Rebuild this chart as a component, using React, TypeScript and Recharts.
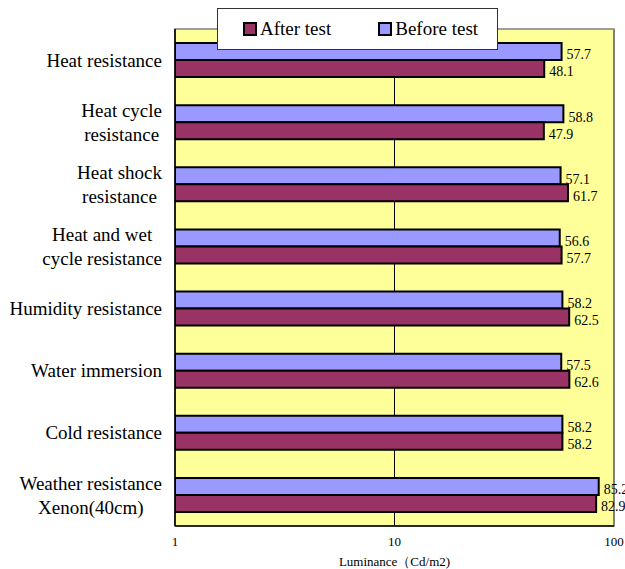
import React from 'react'
import {
  BarChart,
  Bar,
  XAxis,
  YAxis,
  CartesianGrid,
  Legend,
  LabelList,
  ReferenceArea
} from 'recharts'

const categoryLines: string[][] = [
  ['Heat resistance'],
  ['Heat cycle', 'resistance'],
  ['Heat shock', 'resistance'],
  ['Heat and wet', 'cycle resistance'],
  ['Humidity resistance'],
  ['Water immersion'],
  ['Cold resistance'],
  ['Weather resistance', 'Xenon(40cm)']
]
const beforeTest = [57.7, 58.8, 57.1, 56.6, 58.2, 57.5, 58.2, 85.2]
const afterTest = [48.1, 47.9, 61.7, 57.7, 62.5, 62.6, 58.2, 82.9]
const xTicks = [1, 10, 100]

const SERIF = "'Liberation Serif', 'Times New Roman', serif"
const MAROON = '#993366'
const BLUE = '#9999FF'

const data = categoryLines.map((lines, i) => ({
  name: lines.join(' '),
  before: beforeTest[i],
  after: afterTest[i]
}))

let ctx: CanvasRenderingContext2D | null = null
function textWidth(s: string, size: number) {
  if (!ctx) ctx = document.createElement('canvas').getContext('2d')
  if (!ctx) return s.length * size * 0.45
  ctx.font = `${size}px ${SERIF}`
  return ctx.measureText(s).width
}

function CategoryTick(props: any) {
  const { x, y, payload } = props
  const lines = categoryLines.find(l => l.join(' ') === payload.value) || [payload.value]
  const size = 19
  const w = Math.max(...lines.map(l => textWidth(l, size)))
  const cx = x - 5 - w / 2
  const lh = 24
  const start = y - ((lines.length - 1) * lh) / 2
  return (
    <text x={cx} y={start} textAnchor="middle" style={{ fontFamily: SERIF, fontSize: size }} fill="#000">
      {lines.map((l, i) => (
        <tspan key={i} x={cx} y={start + i * lh} dy="0.35em">{l}</tspan>
      ))}
    </text>
  )
}

function LegendBox() {
  const item = (color: string, label: string) => (
    <span style={{ display: 'inline-flex', alignItems: 'center' }}>
      <span style={{
        display: 'inline-block', width: 10, height: 10, background: color,
        border: '2px solid #000', marginRight: 3
      }} />
      <span>{label}</span>
    </span>
  )
  return (
    <div style={{
      boxSizing: 'border-box', width: 281, height: 42, background: '#fff',
      border: '1px solid #333', display: 'flex', alignItems: 'center',
      paddingLeft: 25, gap: 47, fontFamily: SERIF, fontSize: 19, color: '#000'
    }}>
      {item(MAROON, 'After test')}
      {item(BLUE, 'Before test')}
    </div>
  )
}

export default function App() {
  return (
    <div style={{ position: 'absolute', left: 0, top: 0, fontFamily: SERIF }}>
      <BarChart
        width={625}
        height={569}
        data={data}
        layout="vertical"
        margin={{ top: 29, right: 11, left: 0, bottom: 0 }}
        barCategoryGap="22%"
        barGap={0}
        style={{ fontFamily: SERIF }}
      >
        <CartesianGrid horizontal={false} vertical stroke="#000" fill="#FFFF99" fillOpacity={1} />
        <ReferenceArea x1={1} x2={100} fill="none" stroke="#808080" strokeWidth={1.5} />
        <XAxis
          type="number"
          scale="log"
          domain={[1, 100]}
          ticks={xTicks}
          allowDataOverflow
          height={43}
          axisLine={{ stroke: '#000', strokeWidth: 1.5 }}
          tickLine={false}
          tickMargin={5}
          tick={{ fontSize: 13, fill: '#000', style: { fontFamily: SERIF } }}
          label={{
            value: 'Luminance（Cd/m2)',
            position: 'insideBottom',
            offset: 3,
            fontSize: 13,
            fill: '#000',
            style: { fontFamily: SERIF }
          }}
        />
        <YAxis
          type="category"
          dataKey="name"
          width={175}
          axisLine={{ stroke: '#000', strokeWidth: 1.5 }}
          tickLine={false}
          tick={<CategoryTick />}
          interval={0}
        />
        <Legend
          layout="horizontal"
          verticalAlign="middle"
          align="center"
          wrapperStyle={{ top: 8, left: 217, width: 281, height: 42 }}
          content={() => <LegendBox />}
        />
        <Bar dataKey="before" name="Before test" fill={BLUE} stroke="#000" strokeWidth={2} barSize={17} isAnimationActive={false}>
          <LabelList dataKey="before" position="right" offset={5} dy={3} fontSize={14} fill="#000" style={{ fontFamily: SERIF }} />
        </Bar>
        <Bar dataKey="after" name="After test" fill={MAROON} stroke="#000" strokeWidth={2} barSize={17} isAnimationActive={false}>
          <LabelList dataKey="after" position="right" offset={5} dy={3} fontSize={14} fill="#000" style={{ fontFamily: SERIF }} />
        </Bar>
      </BarChart>
    </div>
  )
}
